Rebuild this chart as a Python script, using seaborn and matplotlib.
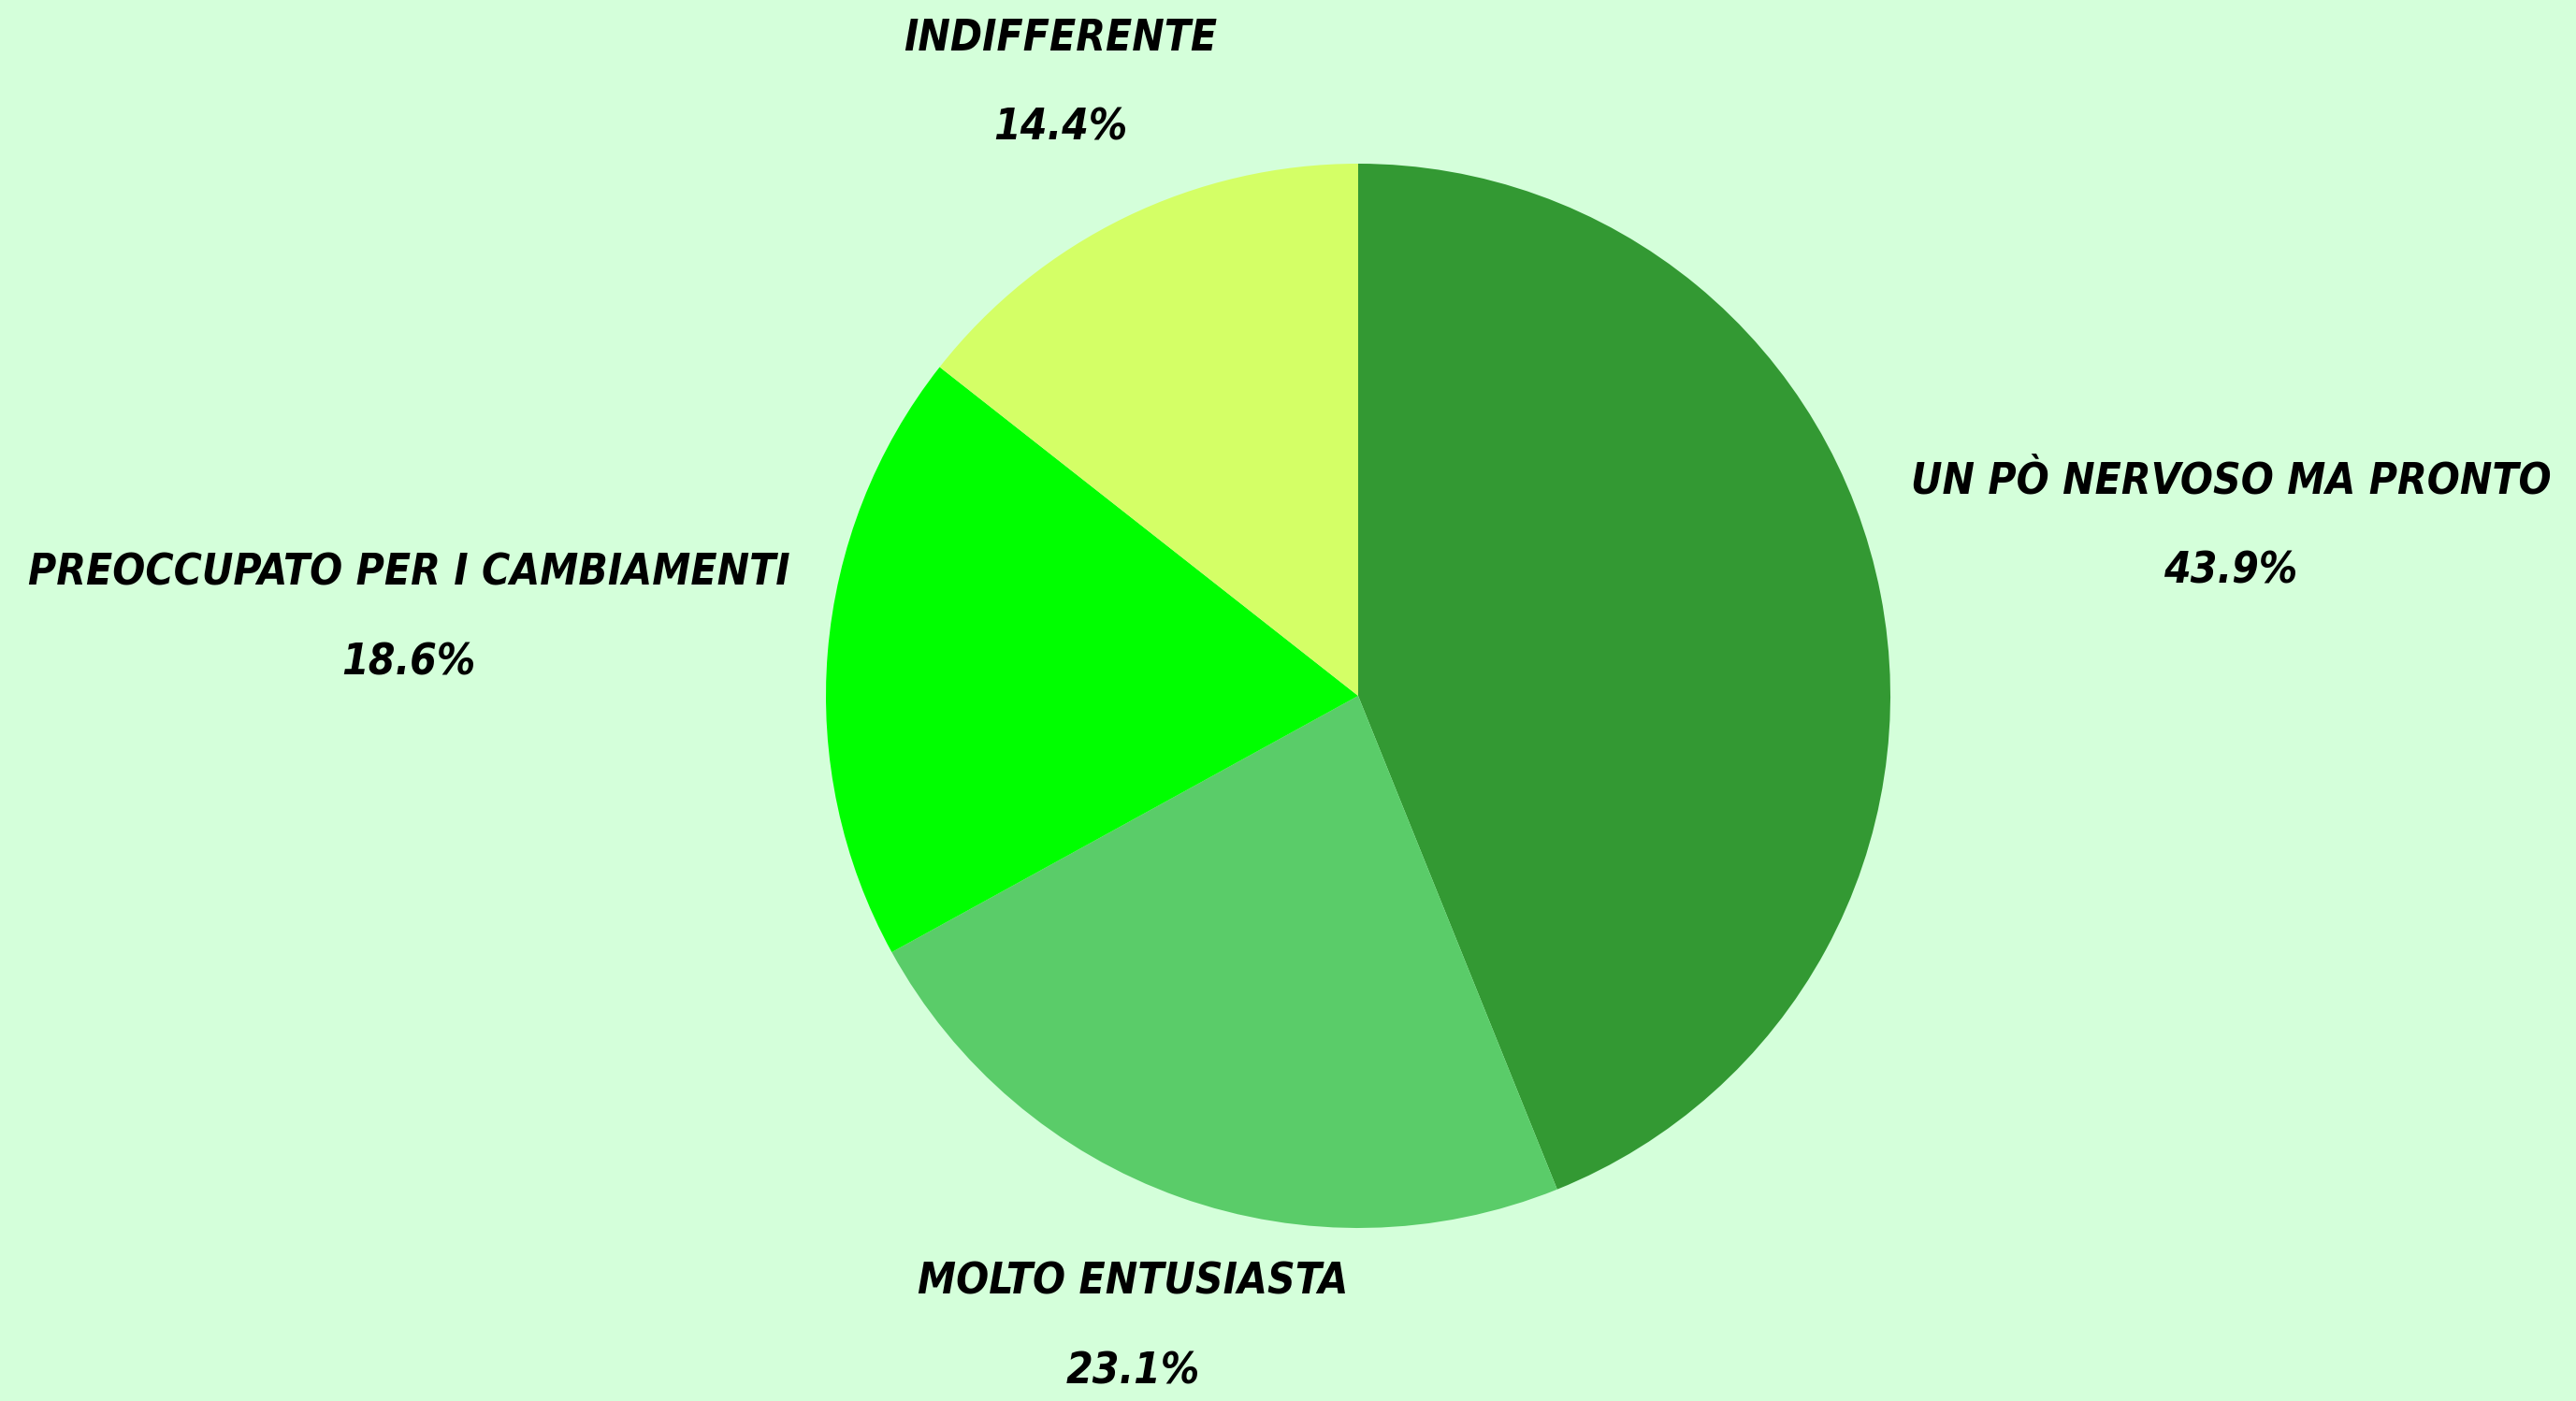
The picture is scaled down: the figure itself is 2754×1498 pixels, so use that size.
import numpy as np
import matplotlib
matplotlib.use('Agg')
import matplotlib.pyplot as plt
import seaborn as sns

# slices go clockwise from 12 o'clock
labels = ['UN PÒ NERVOSO MA PRONTO', 'MOLTO ENTUSIASTA',
          'PREOCCUPATO PER I CAMBIAMENTI', 'INDIFFERENTE']
shares = [43.9, 23.1, 18.6, 14.4]
colors = ['#339933', '#5acc69', '#00ff00', '#d4ff66']
# how far out each label sits, in pie radii
label_dist = [1.67, 1.26, 1.79, 1.28]

BG = '#d4ffda'

sns.set_theme(style='white', rc={'figure.facecolor': BG, 'axes.facecolor': BG})
plt.rcParams['font.family'] = ['DejaVu Sans']

W, H, DPI = 2754, 1498, 100
fig = plt.figure(figsize=(W / DPI, H / DPI), dpi=DPI)
ax = fig.add_axes([0, 0, 1, 1])

wedges, _ = ax.pie(shares, colors=colors, startangle=90, counterclock=False,
                   radius=1, wedgeprops={'linewidth': 0})

# put the pie centre at (1452, 744) px with a 569 px radius
r_px, cx, cy = 569, 1452, 744
ax.set_aspect('auto')
ax.set_xlim(-cx / r_px, (W - cx) / r_px)
ax.set_ylim(-(H - cy) / r_px, cy / r_px)
ax.axis('off')

for w, lab, val, d in zip(wedges, labels, shares, label_dist):
    ang = np.deg2rad((w.theta1 + w.theta2) / 2)
    ax.text(d * np.cos(ang), d * np.sin(ang), f'{lab}\n{val}%',
            ha='center', va='center', fontsize=33, fontweight='heavy',
            fontstretch='condensed', fontstyle='italic', linespacing=2.45,
            color='black')

fig.savefig('out.png', dpi=DPI, facecolor=BG)
